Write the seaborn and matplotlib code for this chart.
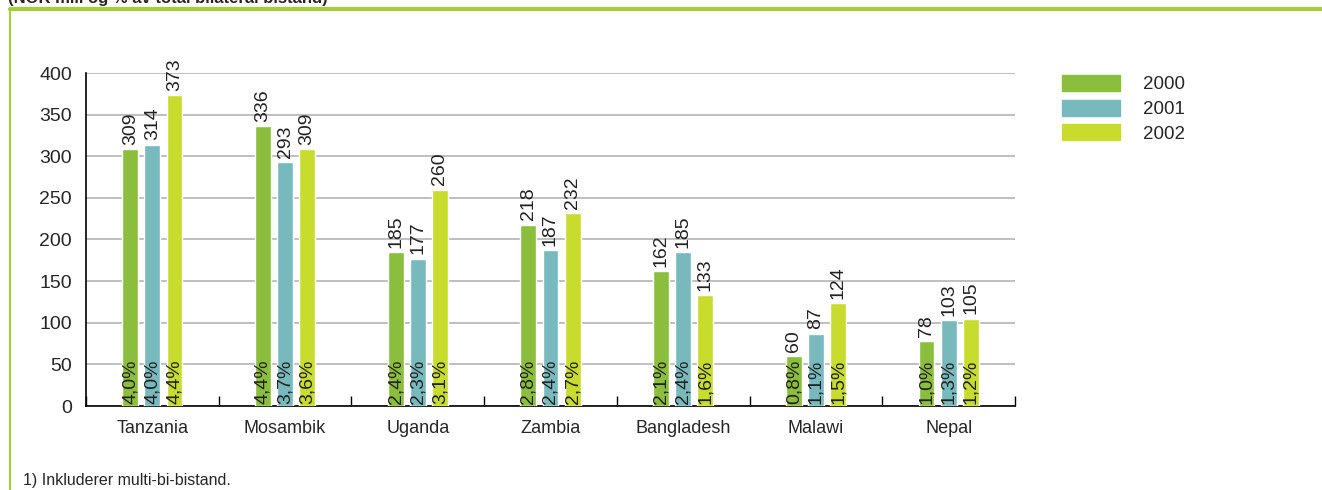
import pandas as pd
import numpy as np
import matplotlib
matplotlib.use("Agg")
import matplotlib.pyplot as plt
import seaborn as sns
from matplotlib.lines import Line2D

countries = ["Tanzania", "Mosambik", "Uganda", "Zambia", "Bangladesh", "Malawi", "Nepal"]
years = ["2000", "2001", "2002"]
values_2000 = [309, 336, 185, 218, 162, 60, 78]
values_2001 = [314, 293, 177, 187, 185, 87, 103]
values_2002 = [373, 309, 260, 232, 133, 124, 105]
share_2000 = ["4,0%", "4,4%", "2,4%", "2,8%", "2,1%", "0,8%", "1,0%"]
share_2001 = ["4,0%", "3,7%", "2,3%", "2,4%", "2,4%", "1,1%", "1,3%"]
share_2002 = ["4,4%", "3,6%", "3,1%", "2,7%", "1,6%", "1,5%", "1,2%"]

palette = {"2000": "#8bbe3c", "2001": "#78b9be", "2002": "#c8dc2e"}

df = pd.DataFrame({
    "land": countries * 3,
    "aar": [y for y in years for _ in countries],
    "verdi": values_2000 + values_2001 + values_2002,
    "andel": share_2000 + share_2001 + share_2002,
})

sns.set_style("white")
plt.rcParams["font.family"] = ["Liberation Sans", "DejaVu Sans"]

fig = plt.figure(figsize=(13.22, 4.9), dpi=100)
ax = fig.add_axes([86 / 1322, 1 - 406 / 490, (1015 - 86) / 1322, (406 - 73) / 490])

sns.barplot(data=df, x="land", y="verdi", hue="aar", palette=palette,
            width=0.5, gap=0.28, saturation=1, ax=ax, legend=False, zorder=3)

ax.set_ylim(0, 400)
ax.set_xlim(-0.5, 6.5)
ax.set_yticks(range(0, 401, 50))
ax.grid(axis="y", color="#b4b4b4", linewidth=1.2, zorder=0)
ax.set_axisbelow(True)
ax.set_xlabel("")
ax.set_ylabel("")

for side in ["top", "right"]:
    ax.spines[side].set_visible(False)
for side in ["left", "bottom"]:
    ax.spines[side].set_color("black")
    ax.spines[side].set_linewidth(1.2)

ax.tick_params(axis="y", length=0, labelsize=14, pad=10)
ax.tick_params(axis="x", which="major", length=0, labelsize=13, pad=10)
ax.set_xticks(np.arange(-0.5, 7, 1), minor=True)
ax.tick_params(axis="x", which="minor", bottom=True, direction="in", length=7,
               width=1, color="black")

# verdier over og andeler inni søylene
for container, shares in zip(ax.containers, [share_2000, share_2001, share_2002]):
    for bar, share in zip(container, shares):
        x = bar.get_x() + bar.get_width() / 2
        h = bar.get_height()
        ax.text(x, h + 5, f"{h:.0f}", rotation=90, ha="center", va="bottom",
                fontsize=14, color="#222222")
        ax.text(x, 2, share, rotation=90, ha="center", va="bottom",
                fontsize=14, color="#222222", zorder=4)

# legend
handles = [plt.Rectangle((0, 0), 1, 1, color=palette[y]) for y in years]
fig.legend(handles, years, loc="upper left", bbox_to_anchor=(1045 / 1322, 1 - 58 / 490),
           frameon=False, fontsize=13.5, handlelength=3.1, handleheight=0.95,
           labelspacing=0.33, handletextpad=1.2)

# ramme og tekster
fig.add_artist(Line2D([10 / 1322, 1], [1 - 9 / 490, 1 - 9 / 490], color="#a6cc3a", linewidth=3))
fig.add_artist(Line2D([10 / 1322, 10 / 1322], [0, 1 - 9 / 490], color="#a6cc3a", linewidth=1.5))
fig.text(8 / 1322, 1 + 1 / 490, "(NOK mill og % av total bilateral bistand)", fontsize=12,
         fontweight="bold", ha="left", va="center")
fig.text(23 / 1322, 1 - 480 / 490, "1) Inkluderer multi-bi-bistand.", fontsize=11.5,
         ha="left", va="center")

fig.savefig("out.png", dpi=100)
